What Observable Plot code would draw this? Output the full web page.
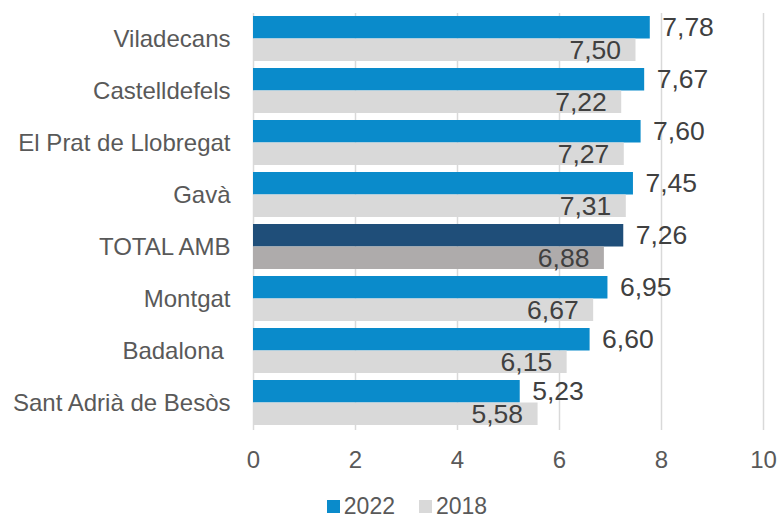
<!DOCTYPE html>
<html><head><meta charset="utf-8">
<script src="https://cdn.jsdelivr.net/npm/d3@7"></script>
<script src="https://cdn.jsdelivr.net/npm/@observablehq/plot@0.6"></script>
<style>
body{margin:0;background:#fff;font-family:"Liberation Sans",Arial,sans-serif;}
#legend{display:flex;justify-content:center;align-items:center;gap:24px;font-size:23px;color:#595959;padding-left:36px;height:25px;line-height:25px;}
#legend .item{display:flex;align-items:center;}
#legend span.sw{display:inline-block;width:13px;height:13px;margin-right:4px;}
</style></head>
<body>
<div id="chart"></div>
<div id="legend"></div>
<script>
const categories = ["Viladecans","Castelldefels","El Prat de Llobregat","Gavà","TOTAL AMB","Montgat","Badalona\u00a0","Sant Adrià de Besòs"];
const values2022 = [7.78,7.67,7.60,7.45,7.26,6.95,6.60,5.23];
const values2018 = [7.50,7.22,7.27,7.31,6.88,6.67,6.15,5.58];
const xTicks = [0,2,4,6,8,10];
const seriesNames = ["2022","2018"];
const highlight = "TOTAL AMB";

const blue = "#0A8BCB", navy = "#1F4E79", grey = "#D9D9D9", greyDark = "#AEABAB";
const fmt = v => d3.format(".2f")(v).replace(".", ",");

const d2022 = categories.map((c,i) => ({category:c, value:values2022[i]}));
const d2018 = categories.map((c,i) => ({category:c, value:values2018[i]}));

const chart = Plot.plot({
  width: 778, height: 494,
  marginLeft: 253, marginRight: 15, marginTop: 5, marginBottom: 58,
  style: {fontFamily: "Liberation Sans, Arial, sans-serif", fontSize: "24px", color: "#595959", background: "#fff"},
  x: {domain: [0,10], ticks: xTicks, tickSize: 0, tickPadding: 14, label: null},
  y: {domain: categories, padding: 0.135, tickSize: 0, tickPadding: 23, label: null},
  marks: [
    Plot.ruleX(xTicks, {x: d => d, stroke: grey, strokeWidth: 1.5, insetTop: 8, insetBottom: 6}),
    Plot.barX(d2022, {x: "value", y: "category", insetBottom: 22.5, fill: d => d.category === highlight ? navy : blue}),
    Plot.barX(d2018, {x: "value", y: "category", insetTop: 22.5, fill: d => d.category === highlight ? greyDark : grey}),
    Plot.text(d2022, {x: "value", y: "category", text: d => fmt(d.value), dx: 12, dy: -11, textAnchor: "start", fontSize: 26.5, fill: "#404040"}),
    Plot.text(d2018, {x: "value", y: "category", text: d => fmt(d.value), dx: -15, dy: 12, textAnchor: "end", fontSize: 26.5, fill: "#404040"})
  ]
});
document.getElementById("chart").appendChild(chart);

const legend = document.getElementById("legend");
[[seriesNames[0], blue],[seriesNames[1], grey]].forEach(([n,c]) => {
  const item = document.createElement("div");
  item.className = "item";
  item.innerHTML = `<span class="sw" style="background:${c}"></span><span>${n}</span>`;
  legend.appendChild(item);
});
</script>
</body></html>
